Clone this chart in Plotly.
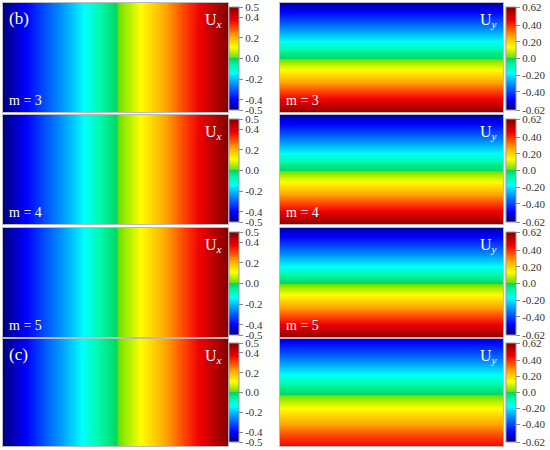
import plotly.graph_objects as go

# sample positions across each panel (0 = left / top, 1 = right / bottom)
x_pos = [0.0, 0.1, 0.2, 0.3, 0.4, 0.5, 0.6, 0.7, 0.8, 0.9, 1.0]
y_pos = [0.0, 0.1, 0.2, 0.3, 0.4, 0.5, 0.6, 0.7, 0.8, 0.9, 1.0]

# U_x profile across the width (same for every row)
ux_m3 = [-0.5, -0.4, -0.3, -0.2, -0.1, 0.0, 0.1, 0.2, 0.3, 0.4, 0.5]
ux_m4 = [-0.5, -0.4, -0.3, -0.2, -0.1, 0.0, 0.1, 0.2, 0.3, 0.4, 0.5]
ux_m5 = [-0.5, -0.4, -0.3, -0.2, -0.1, 0.0, 0.1, 0.2, 0.3, 0.4, 0.5]
ux_c = [-0.5, -0.4, -0.29, -0.19, -0.09, 0.0, 0.1, 0.2, 0.3, 0.4, 0.5]

# U_y profile from top to bottom
uy_m3 = [-0.58, -0.47, -0.35, -0.23, -0.11, 0.0, 0.12, 0.24, 0.36, 0.48, 0.60]
uy_m4 = [-0.58, -0.47, -0.35, -0.23, -0.11, 0.0, 0.12, 0.24, 0.36, 0.48, 0.60]
uy_m5 = [-0.58, -0.47, -0.35, -0.23, -0.11, 0.0, 0.12, 0.24, 0.36, 0.48, 0.60]
uy_c = [-0.52, -0.42, -0.32, -0.21, -0.10, -0.01, 0.09, 0.19, 0.28, 0.37, 0.45]

ux_ticks = [-0.5, -0.4, -0.2, 0.0, 0.2, 0.4, 0.5]
ux_ticktext = ['-0.5', '-0.4', '-0.2', '0.0', '0.2', '0.4', '0.5']
uy_ticks = [-0.62, -0.4, -0.2, 0.0, 0.2, 0.4, 0.62]
uy_ticktext = ['-0.62', '-0.40', '-0.20', '0.0', '0.20', '0.40', '0.62']

row_labels = ['m = 3', 'm = 4', 'm = 5', None]

jet = [
    [0.0, 'rgb(0,0,130)'], [0.1, 'rgb(0,0,255)'], [0.25, 'rgb(0,140,255)'],
    [0.36, 'rgb(0,255,255)'], [0.43, 'rgb(0,250,170)'], [0.5, 'rgb(0,215,100)'],
    [0.51, 'rgb(110,225,0)'], [0.61, 'rgb(255,255,0)'], [0.72, 'rgb(255,165,0)'],
    [0.8, 'rgb(255,70,0)'], [0.87, 'rgb(240,0,0)'], [1.0, 'rgb(130,0,0)'],
]

W, H = 550, 450
left_x = (3, 228)
right_x = (280, 503)
rows_y = [(3, 112), (115, 224), (228, 337), (339, 446)]
cbar_y = [(7, 110), (119, 222), (232, 335), (343, 442)]
font = 'Liberation Serif'

fig = go.Figure()
ux_all = [ux_m3, ux_m4, ux_m5, ux_c]
uy_all = [uy_m3, uy_m4, uy_m5, uy_c]

n = 1
for r, (y0, y1) in enumerate(rows_y):
    for side in range(2):
        ax = '' if n == 1 else str(n)
        if side == 0:
            z = [list(ux_all[r]) for _ in y_pos]
            zmin, zmax, tv, tt = -0.5, 0.5, ux_ticks, ux_ticktext
            px0, px1 = left_x
            cbx, cbw = 229, 10
            title = 'U<sub><i>x</i></sub>'
        else:
            z = [[v] * len(x_pos) for v in uy_all[r]]
            zmin, zmax, tv, tt = -0.62, 0.62, uy_ticks, uy_ticktext
            px0, px1 = right_x
            cbx, cbw = 506, 10
            title = 'U<sub><i>y</i></sub>'
        cb_top, cb_bot = cbar_y[r]
        fig.add_trace(go.Heatmap(
            x=x_pos, y=y_pos, z=z, zmin=zmin, zmax=zmax,
            colorscale=jet, zsmooth='best', hoverinfo='skip',
            xaxis='x' + ax, yaxis='y' + ax,
            colorbar=dict(
                x=cbx / W, xanchor='left', xpad=0, ypad=0,
                y=1 - (cb_top + cb_bot) / 2 / H, yanchor='middle',
                len=cb_bot - cb_top, lenmode='pixels',
                thickness=cbw, thicknessmode='pixels',
                outlinecolor='#999999', outlinewidth=1,
                tickmode='array', tickvals=tv, ticktext=tt,
                ticks='outside', ticklen=4, tickcolor='#888888',
                tickfont=dict(family=font, size=11, color='#333333'),
            ),
        ))
        fig.layout['xaxis' + ax] = dict(
            domain=[px0 / W, px1 / W], range=[0, 1], visible=True,
            showticklabels=False, ticks='', showgrid=False, zeroline=False,
            showline=True, mirror=True, linecolor='#bbbbbb', linewidth=1,
            anchor='y' + ax,
        )
        fig.layout['yaxis' + ax] = dict(
            domain=[1 - y1 / H, 1 - y0 / H], range=[1, 0],
            showticklabels=False, ticks='', showgrid=False, zeroline=False,
            showline=True, mirror=True, linecolor='#bbbbbb', linewidth=1,
            anchor='x' + ax,
        )
        # component label, top right
        fig.add_annotation(
            x=(px1 - 4) / W, y=1 - (y0 + 6) / H, xref='paper', yref='paper',
            xanchor='right', yanchor='top', text=title, showarrow=False,
            font=dict(family=font, size=16, color='white'),
        )
        if row_labels[r]:
            fig.add_annotation(
                x=(px0 + 4) / W, y=1 - (y1 - 2) / H, xref='paper', yref='paper',
                xanchor='left', yanchor='bottom', text=row_labels[r], showarrow=False,
                font=dict(family=font, size=14, color='white'),
            )
        n += 1

# panel tags
for tag, (y0, y1) in [('(b)', rows_y[0]), ('(c)', rows_y[3])]:
    fig.add_annotation(
        x=(left_x[0] + 4) / W, y=1 - (y0 + 4) / H, xref='paper', yref='paper',
        xanchor='left', yanchor='top', text=tag, showarrow=False,
        font=dict(family=font, size=17, color='white'),
    )

fig.update_layout(
    width=W, height=H,
    margin=dict(l=0, r=0, t=0, b=0),
    paper_bgcolor='white', plot_bgcolor='white',
    showlegend=False,
)

# drop the page's default body margin so the figure sits at the corner
fig.write_html("out.html", config={'displayModeBar': False},
               post_script="document.body.style.margin='0';")
